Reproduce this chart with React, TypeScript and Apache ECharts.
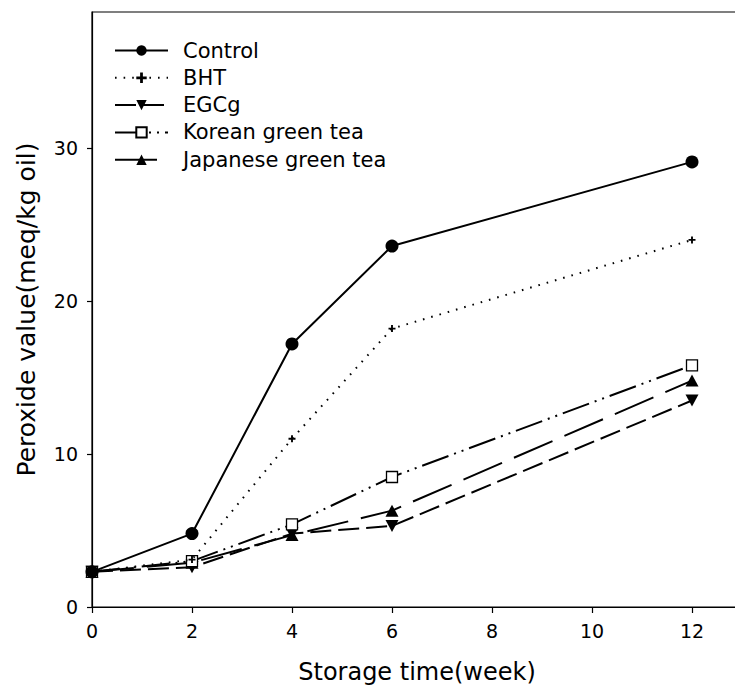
import React, { useEffect, useRef } from "react";
import * as echarts from "echarts";

const weeks = [0, 2, 4, 6, 12];
const control = [2.3, 4.8, 17.2, 23.6, 29.1];
const bht = [2.3, 3.1, 11.0, 18.2, 24.0];
const egcg = [2.3, 2.6, 4.8, 5.3, 13.5];
const korean = [2.3, 3.0, 5.4, 8.5, 15.8];
const japanese = [2.3, 2.9, 4.7, 6.3, 14.8];
const xTicks = [0, 2, 4, 6, 8, 10, 12];
const yTicks = [0, 10, 20, 30];

const FONT = "DejaVu Sans";
const PLUS = "path://M2.2,0 H3.8 V2.2 H6 V3.8 H3.8 V6 H2.2 V3.8 H0 V2.2 H2.2 Z";
const DOWN_TRI = "path://M0,0 L10,0 L5,9 Z";

function pairs(vals: number[]) {
  return weeks.map((w, i) => [w, vals[i]]);
}

export default function App() {
  const ref = useRef<HTMLDivElement>(null);
  useEffect(() => {
    document.body.style.margin = "0";
    document.body.style.overflow = "hidden";
    document.documentElement.style.overflow = "hidden";
    const chart = echarts.init(ref.current!, null, { renderer: "svg" });
    const black = "#000";
    chart.setOption({
      animation: false,
      backgroundColor: "#fff",
      grid: {
        left: 92,
        top: 12,
        width: 650,
        height: 595,
        show: true,
        borderColor: black,
        borderWidth: 1.2,
        backgroundColor: "transparent",
      },
      legend: {
        orient: "vertical",
        left: 114,
        top: 40,
        padding: 0,
        itemWidth: 53,
        itemHeight: 13,
        itemGap: 6.3,
        textStyle: {
          fontFamily: FONT,
          fontSize: 21,
          color: black,
          lineHeight: 20,
          padding: [0, 0, 0, 10],
        },
        data: ["Control", "BHT", "EGCg", "Korean green tea", "Japanese green tea"],
      },
      xAxis: {
        type: "value",
        min: 0,
        max: 13,
        interval: 2,
        name: "Storage time(week)",
        nameLocation: "middle",
        nameGap: 53,
        nameTextStyle: { fontFamily: FONT, fontSize: 24, color: black },
        axisLine: { lineStyle: { color: black, width: 1.2 } },
        axisTick: { inside: false, length: 6, lineStyle: { color: black, width: 1.2 }, customValues: xTicks },
        axisLabel: { fontFamily: FONT, fontSize: 19, color: black, margin: 14, customValues: xTicks },
        splitLine: { show: false },
      },
      yAxis: {
        type: "value",
        min: 0,
        max: 38.9,
        interval: 10,
        name: "Peroxide value(meq/kg oil)",
        nameLocation: "middle",
        nameRotate: 90,
        nameGap: 53,
        nameTextStyle: { fontFamily: FONT, fontSize: 25, color: black },
        axisLine: { lineStyle: { color: black, width: 1.2 } },
        axisTick: { inside: false, length: 5, lineStyle: { color: black, width: 1.2 }, customValues: yTicks },
        axisLabel: { fontFamily: FONT, fontSize: 19, color: black, margin: 14, customValues: yTicks },
        splitLine: { show: false },
      },
      series: [
        {
          name: "Control",
          type: "line",
          data: pairs(control),
          symbol: "circle",
          symbolSize: 13,
          lineStyle: { color: black, width: 2, type: "solid" },
          itemStyle: { color: black },
          z: 6,
        },
        {
          name: "BHT",
          type: "line",
          data: pairs(bht),
          symbol: PLUS,
          symbolSize: 7,
          lineStyle: { color: black, width: 2, type: [1.6, 7] },
          itemStyle: { color: black },
          z: 5,
        },
        {
          name: "EGCg",
          type: "line",
          data: pairs(egcg),
          symbol: DOWN_TRI,
          symbolSize: [13, 12],
          lineStyle: { color: black, width: 2, type: [21, 7] },
          itemStyle: { color: black },
          z: 3,
        },
        {
          name: "Korean green tea",
          type: "line",
          data: pairs(korean),
          symbol: "rect",
          symbolSize: 11,
          lineStyle: { color: black, width: 2, type: [28, 6, 2, 6, 2, 6] },
          itemStyle: { color: "#fff", borderColor: black, borderWidth: 1.3 },
          z: 4,
        },
        {
          name: "Japanese green tea",
          type: "line",
          data: pairs(japanese),
          symbol: "triangle",
          symbolSize: [13, 12],
          lineStyle: { color: black, width: 2, type: [42, 13] },
          itemStyle: { color: black },
          z: 3,
        },
      ],
    });
    return () => chart.dispose();
  }, []);
  return <div ref={ref} style={{ width: 760, height: 693 }} />;
}
